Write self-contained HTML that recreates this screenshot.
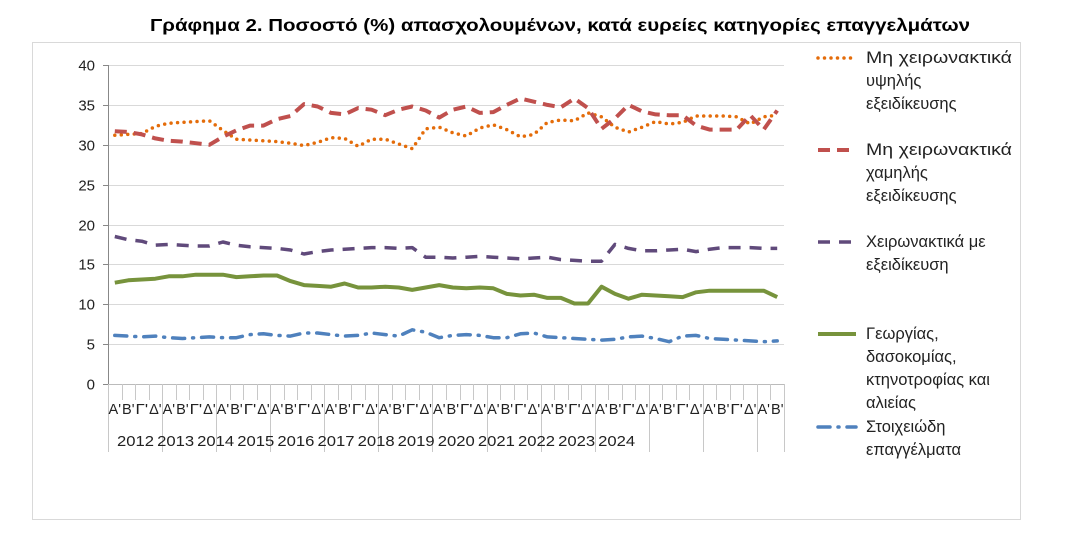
<!DOCTYPE html>
<html><head><meta charset="utf-8"><style>
body{margin:0;background:#fff;width:1066px;height:538px;overflow:hidden}
svg{font-family:"Liberation Sans",sans-serif}
</style></head><body>
<svg id="s" width="1066" height="538" xmlns="http://www.w3.org/2000/svg">
<text x="150" y="31" font-size="17.5" font-weight="bold" fill="#000" textLength="820" lengthAdjust="spacingAndGlyphs">Γράφημα 2. Ποσοστό (%) απασχολουμένων, κατά ευρείες κατηγορίες επαγγελμάτων</text>
<rect x="32.5" y="42.5" width="988" height="477" fill="none" stroke="#d9d9d9"/>
<g id="grid"></g>
<g id="lines"></g>
<g font-size="16.5" fill="#222">
<g stroke-width="3.5" fill="none" stroke-linecap="round">
<line x1="818" y1="58" x2="856" y2="58" stroke="#e46c0a" stroke-dasharray="0 6.5"/>
<line x1="818" y1="150" x2="856" y2="150" stroke="#c0504d" stroke-dasharray="12 7" stroke-linecap="butt" stroke-width="4"/>
<line x1="818" y1="242" x2="856" y2="242" stroke="#604a7b" stroke-dasharray="12 9" stroke-linecap="butt"/>
<line x1="818" y1="334" x2="856" y2="334" stroke="#77933c" stroke-linecap="butt" stroke-width="4"/>
<line x1="818" y1="427" x2="856" y2="427" stroke="#4f81bd" stroke-dasharray="12 8 1 8"/>
</g>
<text x="866" y="63" textLength="146" lengthAdjust="spacingAndGlyphs">Μη χειρωνακτικά</text><text x="866" y="86">υψηλής</text><text x="866" y="109">εξειδίκευσης</text>
<text x="866" y="155" textLength="146" lengthAdjust="spacingAndGlyphs">Μη χειρωνακτικά</text><text x="866" y="178">χαμηλής</text><text x="866" y="201">εξειδίκευσης</text>
<text x="866" y="247">Χειρωνακτικά με</text><text x="866" y="270">εξειδίκευση</text>
<text x="866" y="339">Γεωργίας,</text><text x="866" y="362">δασοκομίας,</text><text x="866" y="385">κτηνοτροφίας και</text><text x="866" y="408">αλιείας</text>
<text x="866" y="432">Στοιχειώδη</text><text x="866" y="455">επαγγέλματα</text>
</g>
</svg>
<script>
var NS="http://www.w3.org/2000/svg";
function el(p,t,a,txt){var e=document.createElementNS(NS,t);for(var k in a)e.setAttribute(k,a[k]);if(txt!=null)e.textContent=txt;p.appendChild(e);return e;}
var g=document.getElementById('grid'),L=document.getElementById('lines');
var x0=108,x1=784,N=50,w=(x1-x0)/N;
function Y(v){return 384-7.975*v;}
for(var v=0;v<=40;v+=5){var y=Math.round(Y(v))+0.5;
 if(v>0)el(g,'line',{x1:x0,x2:x1,y1:y,y2:y,stroke:'#d9d9d9','stroke-width':1});
 el(g,'line',{x1:x0-5,x2:x0,y1:y,y2:y,stroke:'#888'});
 el(g,'text',{x:x0-13,y:y+5,'font-size':'15','text-anchor':'end',fill:'#222'},v);}
el(g,'line',{x1:x0+.5,x2:x0+.5,y1:65,y2:384,stroke:'#888'});
el(g,'line',{x1:x0,x2:x1,y1:384.5,y2:384.5,stroke:'#bbb'});
var q=["Α'","Β'","Γ'","Δ'"];
for(var i=0;i<=N;i++){var x=Math.round(x0+i*w)+0.5;
 el(g,'line',{x1:x,x2:x,y1:384,y2:(i%4==0||i==N)?452:400,stroke:'#c8c8c8'});
 if(i<N)el(g,'text',{x:x0+(i+.5)*w,y:414,'font-size':'15','text-anchor':'middle',fill:'#222',textLength:'12.5',lengthAdjust:'spacingAndGlyphs'},q[i%4]);}
for(var yr=0;yr<13;yr++){el(g,'text',{x:117+yr*40.1,y:446,'font-size':'15',fill:'#222',textLength:'37',lengthAdjust:'spacingAndGlyphs'},2012+yr);}
var S=[
{c:'#e46c0a',d:'0 6.5',w:3.5,cap:'round',v:[31.2,31.3,31.4,32.3,32.7,32.8,32.9,33.0,31.8,30.7,30.6,30.5,30.4,30.2,29.9,30.3,30.9,30.8,29.8,30.7,30.7,30.1,29.5,32.0,32.2,31.5,31.1,32.1,32.5,31.9,31.0,31.3,32.8,33.1,33.0,34.0,33.5,32.2,31.6,32.2,32.9,32.6,32.8,33.6,33.6,33.6,33.5,32.6,33.5,33.7]},
{c:'#c0504d',d:'12 7',w:4,cap:'butt',v:[31.7,31.6,31.3,30.8,30.5,30.4,30.2,30.0,31.0,31.8,32.4,32.4,33.2,33.6,35.1,34.8,34.0,33.8,34.6,34.4,33.7,34.4,34.8,34.3,33.4,34.4,34.8,34.0,34.1,35.0,35.8,35.4,35.0,34.7,35.8,34.6,32.0,33.3,35.0,34.2,33.8,33.7,33.7,32.4,31.9,31.9,31.9,33.7,31.9,34.3]},
{c:'#604a7b',d:'12 9',w:3.5,cap:'butt',v:[18.5,18.1,17.9,17.4,17.5,17.4,17.3,17.3,17.8,17.4,17.2,17.1,17.0,16.8,16.3,16.6,16.8,16.9,17.0,17.1,17.1,17.0,17.1,15.9,15.9,15.8,15.9,16.0,15.9,15.8,15.7,15.8,15.9,15.6,15.5,15.4,15.4,17.5,17.0,16.7,16.7,16.8,16.9,16.6,16.9,17.1,17.1,17.1,17.0,17.0]},
{c:'#77933c',d:'none',w:4,cap:'butt',v:[12.7,13.0,13.1,13.2,13.5,13.5,13.7,13.7,13.7,13.4,13.5,13.6,13.6,12.9,12.4,12.3,12.2,12.6,12.1,12.1,12.2,12.1,11.8,12.1,12.4,12.1,12.0,12.1,12.0,11.3,11.1,11.2,10.8,10.8,10.1,10.1,12.2,11.3,10.7,11.2,11.1,11.0,10.9,11.5,11.7,11.7,11.7,11.7,11.7,10.9]},
{c:'#4f81bd',d:'12 8 1 8',w:3.5,cap:'round',v:[6.1,6.0,5.9,6.0,5.8,5.7,5.8,5.9,5.8,5.8,6.2,6.3,6.1,6.0,6.4,6.4,6.2,6.0,6.1,6.4,6.2,6.0,6.8,6.5,5.8,6.1,6.2,6.1,5.8,5.8,6.3,6.4,5.9,5.8,5.7,5.6,5.5,5.6,5.9,6.0,5.7,5.3,6.0,6.1,5.7,5.6,5.5,5.4,5.3,5.4]}
];
S.forEach(function(s){var p=s.v.map(function(v,i){return (x0+(i+.5)*w).toFixed(1)+','+Y(v).toFixed(1);}).join(' ');
 var a={points:p,fill:'none',stroke:s.c,'stroke-width':s.w,'stroke-linecap':s.cap,'stroke-linejoin':'round'};
 if(s.d!='none')a['stroke-dasharray']=s.d;el(L,'polyline',a);});
</script>
</body></html>
